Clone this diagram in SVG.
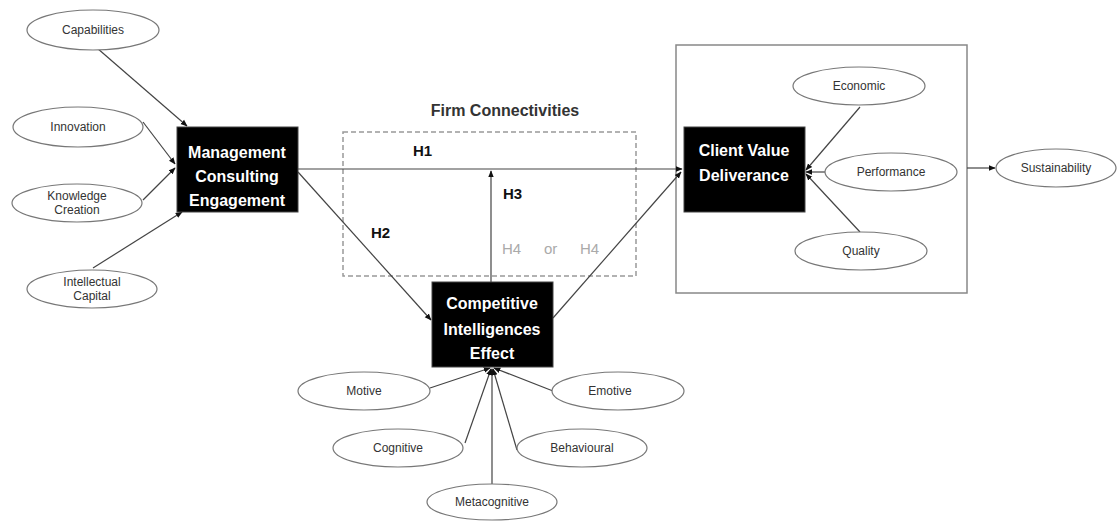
<svg xmlns="http://www.w3.org/2000/svg" width="1117" height="521" viewBox="0 0 1117 521">
<style>
.el{fill:#fff;stroke:#777;stroke-width:1.2}
.et{font-family:"Liberation Sans",Arial,sans-serif;font-size:12px;fill:#333;text-anchor:middle}
.bx{fill:#000;stroke:#444;stroke-width:1}
.bt{font-family:"Liberation Sans",Arial,sans-serif;font-size:16px;font-weight:bold;fill:#fff;text-anchor:middle}
.ln{stroke:#444;stroke-width:1.2;fill:none}
.lb{font-family:"Liberation Sans",Arial,sans-serif;font-size:15px;font-weight:bold;fill:#111}
.g4{font-family:"Liberation Sans",Arial,sans-serif;font-size:15px;fill:#aaa}
</style>
<defs>
<marker id="ah" viewBox="0 0 10 10" refX="9" refY="5" markerWidth="7" markerHeight="7" orient="auto" markerUnits="userSpaceOnUse">
<path d="M0,1 L10,5 L0,9 z" fill="#111"/>
</marker>
</defs>
<rect x="0" y="0" width="1117" height="521" fill="#fff"/>

<g id="frame-firm">
<rect x="343" y="132" width="293" height="144" fill="none" stroke="#999" stroke-width="1.5" stroke-dasharray="5,3"/>
<text x="505" y="116" text-anchor="middle" font-family="'Liberation Sans',Arial,sans-serif" font-size="16" font-weight="bold" fill="#333">Firm Connectivities</text>
</g>
<g id="frame-cvd">
<rect x="676" y="45" width="291" height="248" fill="none" stroke="#888" stroke-width="1.5"/>
</g>

<g id="connectors">
<line class="ln" x1="97" y1="48" x2="187" y2="126" marker-end="url(#ah)"/>
<line class="ln" x1="143" y1="122" x2="175" y2="164" marker-end="url(#ah)"/>
<line class="ln" x1="143" y1="200" x2="175" y2="168" marker-end="url(#ah)"/>
<line class="ln" x1="93" y1="268" x2="182" y2="212" marker-end="url(#ah)"/>
<line class="ln" x1="298" y1="169" x2="682" y2="169" marker-end="url(#ah)"/>
<line class="ln" x1="298" y1="172" x2="431" y2="320" marker-end="url(#ah)"/>
<line class="ln" x1="553" y1="318" x2="681" y2="172" marker-end="url(#ah)"/>
<line class="ln" x1="491" y1="282" x2="491" y2="171" marker-end="url(#ah)"/>
<line class="ln" x1="860" y1="107" x2="806" y2="170" marker-end="url(#ah)"/>
<line class="ln" x1="825" y1="172" x2="806" y2="172" marker-end="url(#ah)"/>
<line class="ln" x1="860" y1="232" x2="806" y2="174" marker-end="url(#ah)"/>
<line class="ln" x1="967" y1="168" x2="995" y2="168" marker-end="url(#ah)"/>
<line class="ln" x1="430" y1="388" x2="490" y2="368" marker-end="url(#ah)"/>
<line class="ln" x1="553" y1="391" x2="494" y2="368" marker-end="url(#ah)"/>
<line class="ln" x1="465" y1="443" x2="491" y2="369" marker-end="url(#ah)"/>
<line class="ln" x1="517" y1="450" x2="493" y2="369" marker-end="url(#ah)"/>
<line class="ln" x1="492" y1="484" x2="492" y2="369" marker-end="url(#ah)"/>
<text class="lb" x="413" y="156">H1</text>
<text class="lb" x="371" y="238">H2</text>
<text class="lb" x="503" y="199">H3</text>
<text class="g4" x="502" y="254">H4</text>
<text class="g4" x="544" y="254">or</text>
<text class="g4" x="580" y="254">H4</text>
</g>

<g id="capabilities"><ellipse class="el" cx="93" cy="30" rx="66" ry="20"/><text class="et" x="93" y="34">Capabilities</text></g>
<g id="innovation"><ellipse class="el" cx="78" cy="127" rx="65" ry="20"/><text class="et" x="78" y="131">Innovation</text></g>
<g id="knowledge"><ellipse class="el" cx="77" cy="203" rx="65" ry="19"/><text class="et" x="77" y="200">Knowledge</text><text class="et" x="77" y="214">Creation</text></g>
<g id="intellectual"><ellipse class="el" cx="92" cy="289" rx="65" ry="19"/><text class="et" x="92" y="286">Intellectual</text><text class="et" x="92" y="300">Capital</text></g>

<g id="mce"><rect class="bx" x="177" y="127" width="121" height="85"/>
<text class="bt" x="237" y="158">Management</text><text class="bt" x="237" y="182">Consulting</text><text class="bt" x="237" y="206">Engagement</text></g>

<g id="cie"><rect class="bx" x="432" y="282" width="121" height="85"/>
<text class="bt" x="492" y="309">Competitive</text><text class="bt" x="492" y="335">Intelligences</text><text class="bt" x="492" y="359">Effect</text></g>

<g id="cvd"><rect class="bx" x="684" y="127" width="121" height="85"/>
<text class="bt" x="744" y="156">Client Value</text><text class="bt" x="744" y="181">Deliverance</text></g>

<g id="economic"><ellipse class="el" cx="859" cy="86" rx="66" ry="19"/><text class="et" x="859" y="90">Economic</text></g>
<g id="performance"><ellipse class="el" cx="891" cy="172" rx="66" ry="19"/><text class="et" x="891" y="176">Performance</text></g>
<g id="quality"><ellipse class="el" cx="861" cy="251" rx="66" ry="19"/><text class="et" x="861" y="255">Quality</text></g>
<g id="sustainability"><ellipse class="el" cx="1056" cy="168" rx="60" ry="19"/><text class="et" x="1056" y="172">Sustainability</text></g>

<g id="motive"><ellipse class="el" cx="364" cy="391" rx="66" ry="19"/><text class="et" x="364" y="395">Motive</text></g>
<g id="emotive"><ellipse class="el" cx="618" cy="391" rx="66" ry="19"/><text class="et" x="610" y="395">Emotive</text></g>
<g id="cognitive"><ellipse class="el" cx="398" cy="448" rx="65" ry="19"/><text class="et" x="398" y="452">Cognitive</text></g>
<g id="behavioural"><ellipse class="el" cx="582" cy="448" rx="65" ry="19"/><text class="et" x="582" y="452">Behavioural</text></g>
<g id="metacognitive"><ellipse class="el" cx="492" cy="502" rx="65" ry="18"/><text class="et" x="492" y="506">Metacognitive</text></g>
</svg>
